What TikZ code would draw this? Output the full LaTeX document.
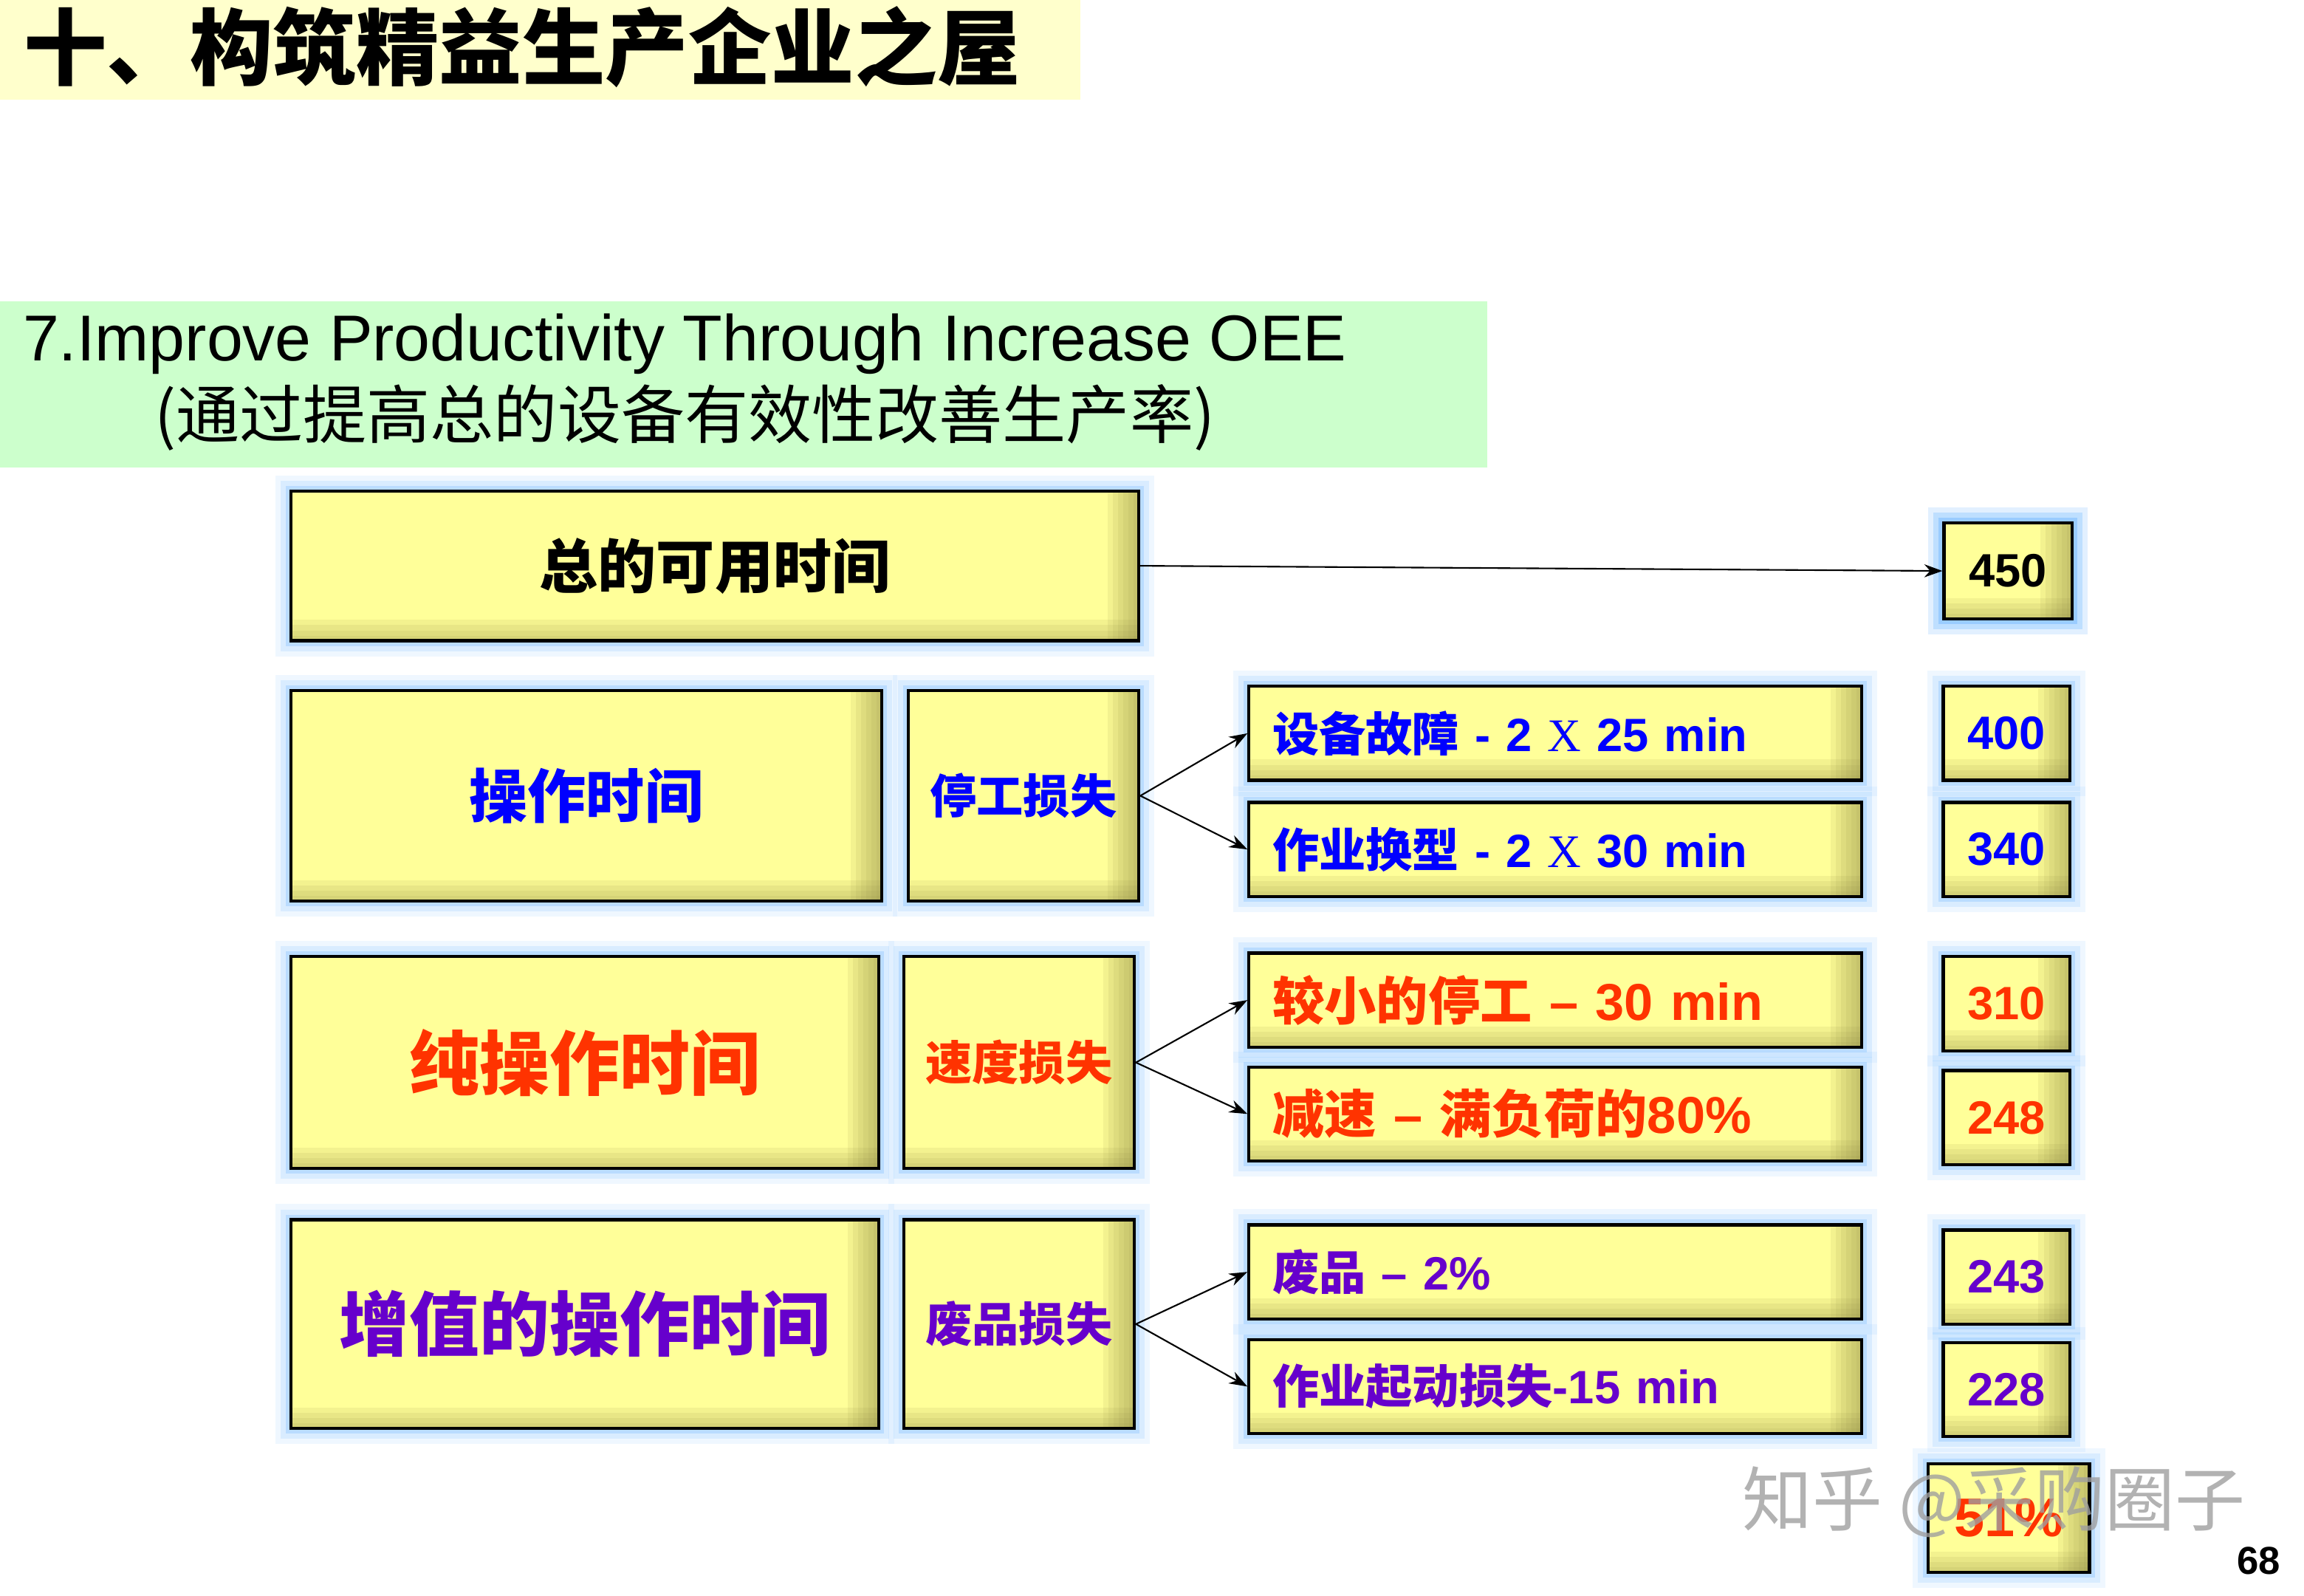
\documentclass[tikz,border=0pt]{standalone}
\usepackage{fontspec}
\setmainfont{Liberation Sans}
\newfontfamily\cjk{Noto Sans CJK SC}
\newfontfamily\xser{Liberation Serif}
\usetikzlibrary{arrows.meta}
\newcommand{\dpx}{0.019898cm}
\definecolor{titlebg}{HTML}{FFFFCC}
\definecolor{greenbg}{HTML}{CCFFCC}
\definecolor{boxfill}{HTML}{FFFF99}
\definecolor{boxedge}{HTML}{8A8640}
\definecolor{glowblue}{HTML}{7FBFFF}
\definecolor{txtblue}{HTML}{0000FF}
\definecolor{txtred}{HTML}{FF3300}
\definecolor{txtpurple}{HTML}{6600CC}
\tikzset{
  glow/.style={preaction={draw=glowblue, line width=12pt, opacity=.12},
               preaction={draw=glowblue, line width=8pt, opacity=.2},
               preaction={draw=glowblue, line width=4pt, opacity=.35}},
  box/.style 2 args={draw=black, line width=1.2pt, fill=boxfill, glow,
    inner sep=0pt, minimum width=#1*\dpx, minimum height=#2*\dpx,
    path picture={
      \foreach \k in {2,4,...,12}
        \fill[boxedge, opacity=.1] ([xshift=-\k*1pt]path picture bounding box.north east) rectangle (path picture bounding box.south east);
      \foreach \k in {2,4,...,8}
        \fill[boxedge, opacity=.1] ([yshift=\k*1pt]path picture bounding box.south west) rectangle (path picture bounding box.south east);
    }},
  sub/.style={box={417}{64}, text width=7.66cm, align=left,
    font=\bfseries\fontsize{18}{21}\selectfont},
  val/.style={box={86}{64}, font=\bfseries\fontsize{18}{21}\selectfont},
  big/.style={font=\cjk\bfseries\fontsize{#1}{#1}\selectfont},
  arr/.style={-{Stealth[length=7pt,width=5pt]}, line width=0.6pt}
}
\begin{document}
\begin{tikzpicture}[x=\dpx, y=-\dpx]
\useasboundingbox (0,0) rectangle (1568,1085.6);
% headings
\fill[titlebg] (0,0) rectangle (735,68);
\node[anchor=west, big=32] (title) at (10,32) {十、构筑精益生产企业之屋};
\fill[greenbg] (0,205) rectangle (1012,318);
\node[align=center, inner sep=0pt] (oee) at (466,260)
  {{\fontsize{25}{28}\selectfont 7.Improve Productivity Through Increase OEE}\\[3pt]
   {\cjk\fontsize{24.5}{28}\selectfont (通过提高总的设备有效性改善生产率)}};

% total time
\node[box={577}{102}, big=22.5] (total) at (486.5,385) {总的可用时间};
\node[val, box={87}{65}] (v450) at (1366.5,388.5) {450};
\draw[arr] (total.east) -- (v450.west);

% downtime
\node[box={402}{143}, big=22.5, text=txtblue] (optime) at (399,541.5) {操作时间};
\node[box={157}{143}, big=18, text=txtblue] (stoploss) at (696.5,541.5) {停工损失};
\node[sub, text=txtblue] (breakdown) at (1058.5,499) {{\cjk 设备故障} - 2 {\xser\mdseries X} 25 min};
\node[sub, text=txtblue] (changeover) at (1058.5,578) {{\cjk 作业换型} - 2 {\xser\mdseries X} 30 min};
\node[val, text=txtblue] (v400) at (1365.5,499) {400};
\node[val, text=txtblue] (v340) at (1365.5,578) {340};
\draw[arr] (stoploss.east) -- (breakdown.west);
\draw[arr] (stoploss.east) -- (changeover.west);

% speed
\node[box={400}{144}, big=27, text=txtred] (nettime) at (398,723) {纯操作时间};
\node[box={157}{144}, big=18, text=txtred] (speedloss) at (693.5,723) {速度损失};
\node[sub, text=txtred, font=\bfseries\fontsize{20}{23}\selectfont] (minorstop) at (1058.5,680.5) {{\cjk 较小的停工} – 30 min};
\node[sub, text=txtred, font=\bfseries\fontsize{20}{23}\selectfont] (slowdown) at (1058.5,758) {{\cjk 减速} – {\cjk 满负荷的}80\%};
\node[val, text=txtred] (v310) at (1365.5,683) {310};
\node[val, text=txtred] (v248) at (1365.5,760.5) {248};
\draw[arr] (speedloss.east) -- (minorstop.west);
\draw[arr] (speedloss.east) -- (slowdown.west);

% quality
\node[box={400}{142}, big=27, text=txtpurple] (vatime) at (398,901) {增值的操作时间};
\node[box={157}{142}, big=18, text=txtpurple] (qualloss) at (693.5,901) {废品损失};
\node[sub, text=txtpurple] (scrap) at (1058.5,865.5) {{\cjk 废品} – 2\%};
\node[sub, text=txtpurple] (startup) at (1058.5,943.5) {{\cjk 作业起动损失}-15 min};
\node[val, text=txtpurple] (v243) at (1365.5,869) {243};
\node[val, text=txtpurple] (v228) at (1365.5,945.5) {228};
\draw[arr] (qualloss.east) -- (scrap.west);
\draw[arr] (qualloss.east) -- (startup.west);

% result
\node[box={110}{74}, text=txtred, font=\bfseries\fontsize{21}{24}\selectfont] (oeepct) at (1367,1033) {51\%};
\node[text=gray!75, opacity=.8, font=\cjk\fontsize{27}{30}\selectfont] (mark) at (1357,1022) {知乎 @采购圈子};
\node[font=\bfseries\fontsize{15}{18}\selectfont] (page) at (1537,1062) {68};
\end{tikzpicture}
\end{document}
